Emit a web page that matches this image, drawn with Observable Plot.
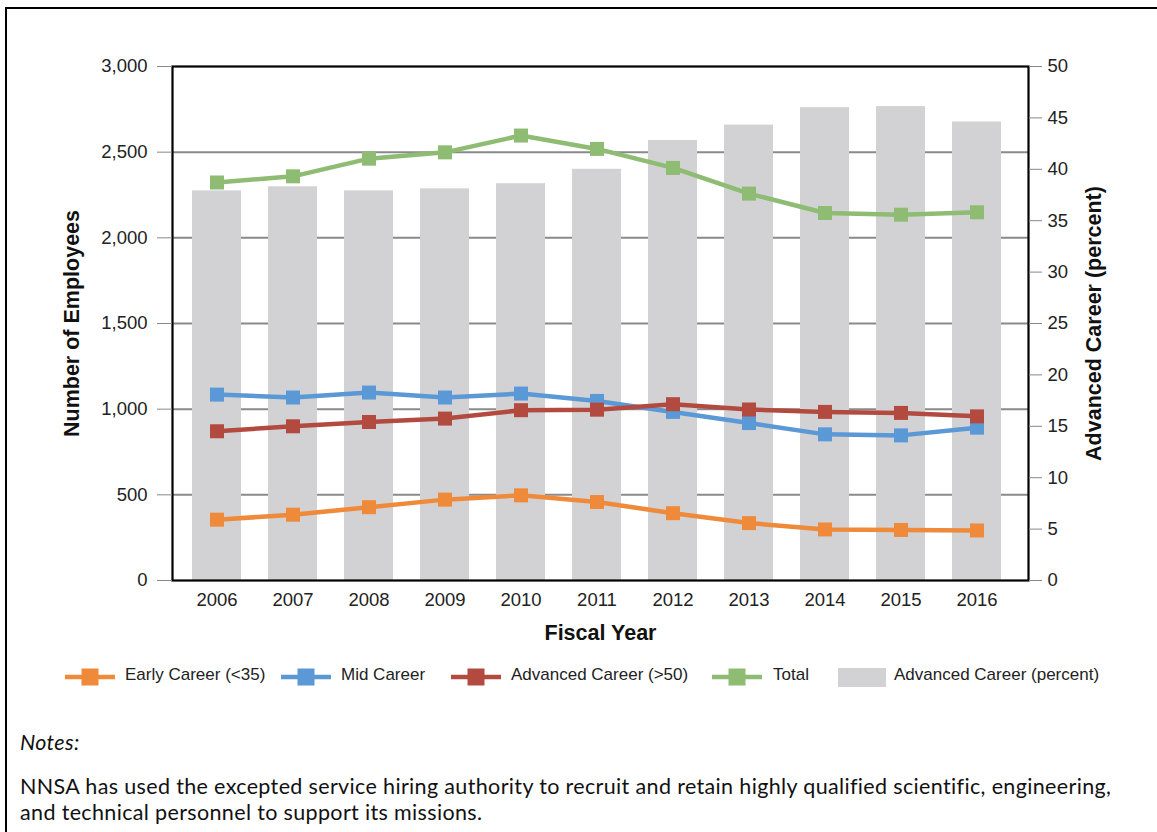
<!DOCTYPE html>
<html>
<head>
<meta charset="utf-8">
<script src="https://cdn.jsdelivr.net/npm/d3@7"></script>
<script src="https://cdn.jsdelivr.net/npm/@observablehq/plot@0.6"></script>
<style>
  html, body { margin: 0; padding: 0; background: #fff; overflow: hidden; }
  #page { position: relative; width: 1157px; height: 832px; }
  #border { position: absolute; left: 5px; top: 7px; width: 1300px; height: 1000px; border: 2.5px solid #000; box-sizing: border-box; }
  #chart { position: absolute; left: 0; top: 0; }
  .leg { position: absolute; top: 666px; font-family: "Liberation Sans", Arial, sans-serif; font-size: 17px; color: #222; line-height: 20px; white-space: nowrap; }
  .notes { position: absolute; left: 20px; font-family: Lato, "Open Sans", sans-serif; font-size: 21.5px; letter-spacing: 0.35px; line-height: 26px; color: #111; white-space: nowrap; }
</style>
</head>
<body>
<div id="page">
  <div id="border"></div>
  <div id="chart"></div>
  <div id="legend"></div>
  <div class="notes" style="top:729px;font-style:italic;">Notes:</div>
  <div class="notes" style="top:773px;">NNSA has used the excepted service hiring authority to recruit and retain highly qualified scientific, engineering,<br>and technical personnel to support its missions.</div>
</div>
<script>
const years = ["2006","2007","2008","2009","2010","2011","2012","2013","2014","2015","2016"];
const earlyCareer = [355, 384, 428, 472, 497, 458, 393, 335, 298, 295, 292];
const midCareer = [1085, 1068, 1097, 1068, 1091, 1048, 984, 919, 853, 847, 892];
const advancedCareer = [871, 900, 925, 945, 994, 997, 1029, 998, 984, 978, 958];
const totalEmployees = [2323, 2359, 2462, 2499, 2597, 2519, 2408, 2258, 2145, 2135, 2149];
const advancedPercent = [37.9, 38.3, 37.9, 38.1, 38.6, 40.0, 42.8, 44.3, 46.0, 46.1, 44.6];

const leftTicks = [0, 500, 1000, 1500, 2000, 2500, 3000];
const rightTicks = [0, 5, 10, 15, 20, 25, 30, 35, 40, 45, 50];
const seriesNames = ["Early Career (<35)", "Mid Career", "Advanced Career (>50)", "Total"];
const seriesColors = ["#EF8A3B", "#5B98D6", "#B34A40", "#8DBC72"];
const barName = "Advanced Career (percent)";
const barColor = "#D2D2D5";

const seriesValues = [earlyCareer, midCareer, advancedCareer, totalEmployees];
const ratio = 3000 / 50; // right axis (percent) mapped onto left axis

const lineRows = [];
seriesValues.forEach((vals, s) => vals.forEach((v, i) => lineRows.push({year: years[i], value: v, series: seriesNames[s]})));
const barRows = years.map((y, i) => ({year: y, pct: advancedPercent[i]}));

const fontFam = "'Liberation Sans', Arial, sans-serif";

const chart = Plot.plot({
  width: 1157,
  height: 650,
  marginTop: 66,
  marginBottom: 70,
  marginLeft: 172,
  marginRight: 129,
  style: {fontFamily: fontFam, background: "transparent", overflow: "visible"},
  x: {type: "band", domain: years, range: [178, 1015], paddingInner: 0.356, paddingOuter: 0.178},
  y: {domain: [0, 3000]},
  color: {domain: seriesNames, range: seriesColors},
  marks: [
    Plot.gridY(leftTicks.slice(1, -1), {stroke: "#8a8a8a", strokeOpacity: 1, strokeWidth: 2}),
    Plot.barY(barRows, {x: "year", y: d => d.pct * ratio, fill: barColor}),
    Plot.lineY(lineRows, {x: "year", y: "value", z: "series", stroke: "series", strokeWidth: 4.5}),
    Plot.dot(lineRows, {x: "year", y: "value", fill: "series", symbol: "square", r: 7.9}),
    Plot.frame({stroke: "#000", strokeWidth: 2.2}),
    Plot.axisY(leftTicks, {anchor: "left", tickFormat: d3.format(","), tickSize: 15, tickPadding: 10, fontSize: 18.5, stroke: "#888", fill: "#222", label: null}),
    Plot.axisY(rightTicks.map(t => t * ratio), {anchor: "right", tickFormat: d => String(d / ratio), tickSize: 13, tickPadding: 6, fontSize: 18.5, stroke: "#888", fill: "#222", label: null}),
    Plot.axisX(years, {anchor: "bottom", tickSize: 0, tickPadding: 12, fontSize: 18.5, fill: "#222", label: null}),
    Plot.text(["Fiscal Year"], {frameAnchor: "bottom", lineAnchor: "middle", textAnchor: "middle", dy: 53, fontSize: 21.5, fontWeight: "bold", fill: "#111"}),
    Plot.text(["Number of Employees"], {frameAnchor: "left", lineAnchor: "middle", textAnchor: "middle", dx: -100, rotate: -90, fontSize: 21.5, fontWeight: "bold", fill: "#111"}),
    Plot.text([barName], {frameAnchor: "right", lineAnchor: "middle", textAnchor: "middle", dx: 66, rotate: -90, fontSize: 21.5, fontWeight: "bold", fill: "#111"})
  ]
});
document.getElementById("chart").appendChild(chart);

// Legend
const legend = document.getElementById("legend");
const lineLeft = [64, 280, 450, 711];
const textLeft = [125, 341, 511, 773];
seriesNames.forEach((name, i) => {
  const sw = document.createElement("div");
  sw.className = "leg";
  sw.style.left = lineLeft[i] + "px";
  sw.innerHTML = `<svg width="52" height="22" style="display:block"><line x1="1" x2="51" y1="11" y2="11" stroke="${seriesColors[i]}" stroke-width="4.5"/><rect x="17.5" y="2.5" width="17" height="17" fill="${seriesColors[i]}"/></svg>`;
  legend.appendChild(sw);
  const tx = document.createElement("div");
  tx.className = "leg";
  tx.style.left = textLeft[i] + "px";
  tx.style.top = "665px";
  tx.textContent = name;
  legend.appendChild(tx);
});
const box = document.createElement("div");
box.className = "leg";
box.style.left = "838px";
box.innerHTML = `<svg width="49" height="22" style="display:block"><rect x="0" y="2" width="48" height="19" fill="${barColor}"/></svg>`;
legend.appendChild(box);
const bt = document.createElement("div");
bt.className = "leg";
bt.style.left = "894px";
bt.style.top = "665px";
bt.textContent = barName;
legend.appendChild(bt);
</script>
</body>
</html>
